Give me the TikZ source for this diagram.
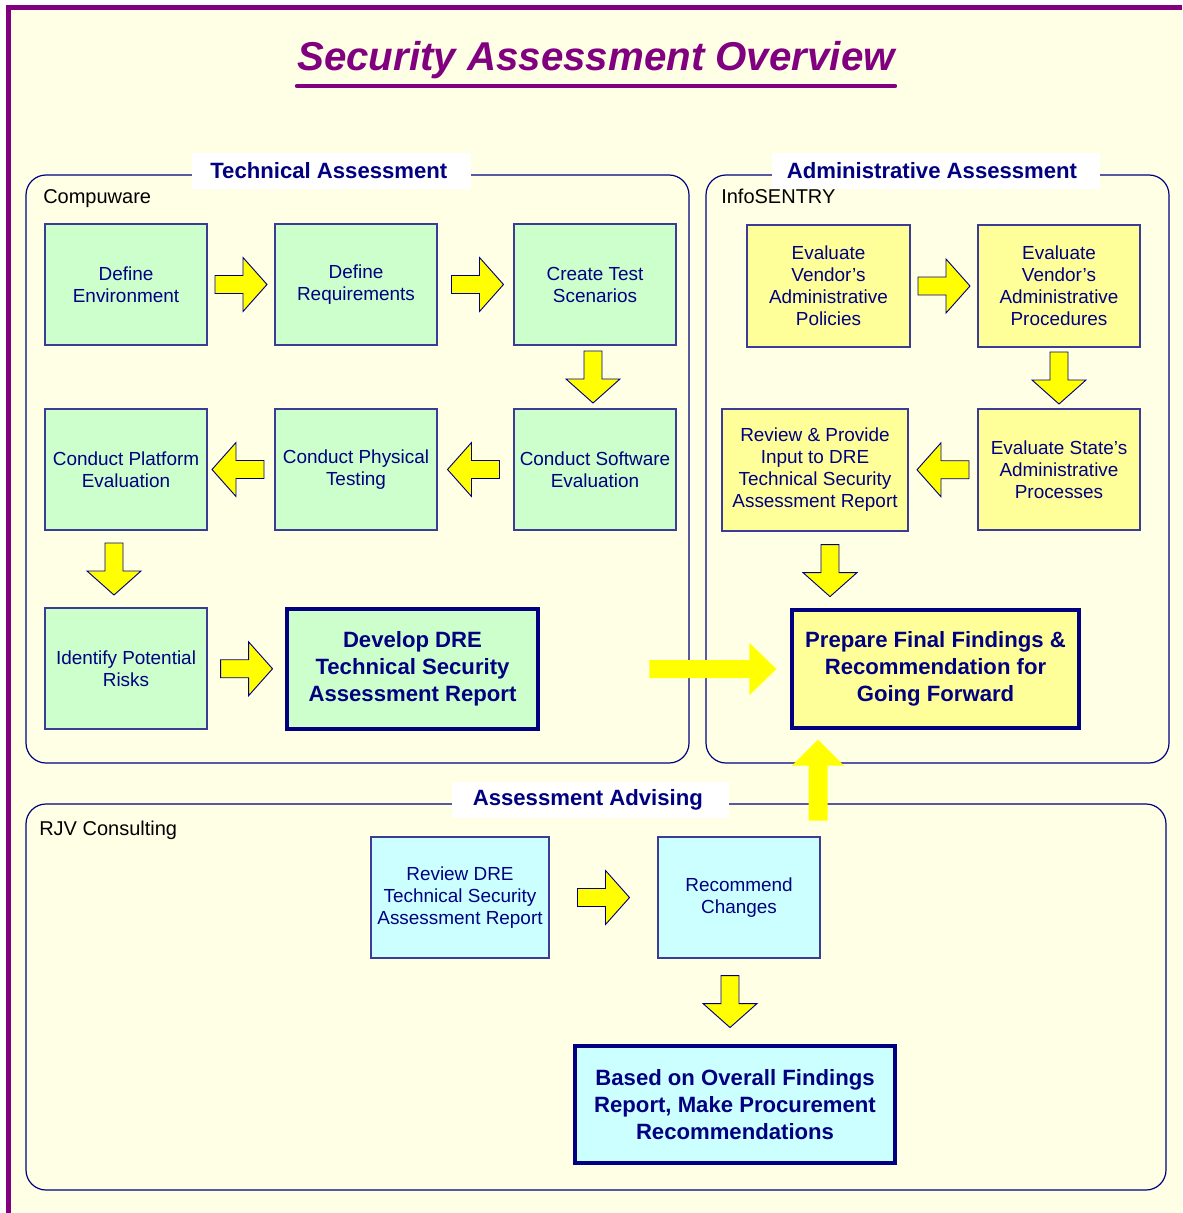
\documentclass[tikz,border=0pt]{standalone}
\usepackage{fontspec}
\setmainfont{Liberation Sans}
\usetikzlibrary{calc}
\definecolor{cream}{RGB}{255,255,230}
\definecolor{frame}{RGB}{128,0,128}
\definecolor{navy}{RGB}{0,0,128}
\definecolor{boxline}{RGB}{60,60,150}
\definecolor{greenbox}{RGB}{204,255,204}
\definecolor{yellowbox}{RGB}{255,255,153}
\definecolor{cyanbox}{RGB}{204,255,255}
\definecolor{arrowfill}{RGB}{255,255,0}
\tikzset{
  sz/.style 2 args={minimum width=#1*0.75pt, minimum height=#2*0.75pt},
  stepbox/.style={draw=boxline, line width=0.9pt, inner sep=0pt, align=center,
    text=navy, font=\fontsize{14.2}{16.5}\selectfont},
  bigbox/.style={draw=navy, line width=2.3pt, inner sep=0pt, align=center,
    text=navy, font=\fontsize{16.6}{20.3}\selectfont\bfseries},
  groupframe/.style={draw=navy, line width=0.9pt, rounded corners=15pt},
  grouplabel/.style={fill=white, inner sep=0pt, text=navy,
    font=\fontsize{16.6}{20}\selectfont\bfseries},
  groupname/.style={anchor=base west, inner sep=0pt, text=black,
    font=\fontsize{15}{18}\selectfont},
  blockarrow/.style={fill=arrowfill, draw=navy, line width=0.7pt, line join=miter},
  bigarrow/.style={fill=arrowfill, draw=none},
  pics/rarrow/.style={code={
    \draw[blockarrow] (-26,-9) -- (2,-9) -- (2,-27) -- (26,0) -- (2,27) -- (2,9) -- (-26,9) -- cycle;}}
}
\begin{document}
\begin{tikzpicture}[x=0.75pt,y=-0.75pt]
\useasboundingbox (0,0) rectangle (1182,1213);
\fill[white] (0,0) rectangle (1182,1213);
\fill[cream] (8.5,7.5) rectangle (1182,1213);
\draw[frame, line width=3.75pt] (8.5,1213) -- (8.5,7.5) -- (1182,7.5);

% title
\node[anchor=base, inner sep=0pt, text=frame, font=\fontsize{30.2}{36}\selectfont\bfseries\itshape] (title) at (596,70) {Security Assessment Overview};
\draw[frame, line width=3.3pt, line cap=round] (297,86) -- (895,86);

% group frames
\draw[groupframe] (26,175) rectangle (689,763);
\draw[groupframe] (706,175) rectangle (1169,763);
\draw[groupframe] (26,804) rectangle (1166,1190);

\node[grouplabel, sz={279}{36}] (techlabel) at (331.5,171) {\hspace*{-4pt}Technical Assessment};
\node[grouplabel, sz={328}{36}] (adminlabel) at (936,171) {\hspace*{-6pt}Administrative Assessment};
\node[grouplabel, sz={277}{36}] (advlabel) at (590.5,800) {\hspace*{-4pt}Assessment Advising};

\node[groupname] (compuware) at (43,203) {Compuware};
\node[groupname] (infosentry) at (721,203) {InfoSENTRY};
\node[groupname] (rjv) at (39,835) {RJV Consulting};

% technical nodes
\node[stepbox, fill=greenbox, sz={162}{121}] (defenv) at (126,284.5) {Define\\Environment};
\node[stepbox, fill=greenbox, sz={162}{121}] (defreq) at (356,284.5) {Define\\Requirements};
\node[stepbox, fill=greenbox, sz={162}{121}] (create) at (595,284.5) {Create Test\\Scenarios};
\node[stepbox, fill=greenbox, sz={162}{121}] (platform) at (126,469.5) {Conduct Platform\\Evaluation};
\node[stepbox, fill=greenbox, sz={162}{121}] (physical) at (356,469.5) {Conduct Physical\\Testing};
\node[stepbox, fill=greenbox, sz={162}{121}] (software) at (595,469.5) {Conduct Software\\Evaluation};
\node[stepbox, fill=greenbox, sz={162}{121}] (identify) at (126,668.5) {Identify Potential\\Risks};
\node[bigbox, fill=greenbox, sz={251}{120}] (develop) at (412.5,669) {Develop DRE\\Technical Security\\Assessment Report};

% administrative nodes
\node[stepbox, fill=yellowbox, sz={163}{122}] (policies) at (828.5,286) {Evaluate\\Vendor’s\\Administrative\\Policies};
\node[stepbox, fill=yellowbox, sz={162}{122}] (procedures) at (1059,286) {Evaluate\\Vendor’s\\Administrative\\Procedures};
\node[stepbox, fill=yellowbox, sz={162}{121}] (state) at (1059,469.5) {Evaluate State’s\\Administrative\\Processes};
\node[stepbox, fill=yellowbox, sz={186}{122}] (review) at (815,470) {Review \& Provide\\Input to DRE\\Technical Security\\Assessment Report};
\node[bigbox, fill=yellowbox, sz={287}{118}] (prepare) at (935.5,669) {Prepare Final Findings \&\\Recommendation for\\Going Forward};

% advising nodes
\node[stepbox, fill=cyanbox, sz={178}{121}] (reviewdre) at (460,897.5) {Review DRE\\Technical Security\\Assessment Report};
\node[stepbox, fill=cyanbox, sz={162}{121}] (recommend) at (739,897.5) {Recommend\\Changes};
\node[bigbox, fill=cyanbox, sz={320}{117}] (based) at (735,1104.5) {Based on Overall Findings\\Report, Make Procurement\\Recommendations};

% block arrows
\pic at ($(defenv.east)!0.5!(defreq.west)$) {rarrow};
\pic at ($(defreq.east)!0.5!(create.west)+(2,0)$) {rarrow};
\pic[rotate=-90] at ($(create.south)!0.5!(software.north)+(-2,0)$) {rarrow};
\pic[rotate=180] at ($(physical.east)!0.5!(software.west)+(-2,0)$) {rarrow};
\pic[rotate=180] at ($(platform.east)!0.5!(physical.west)+(-3,0)$) {rarrow};
\pic[rotate=-90] at ($(platform.south)!0.5!(identify.north)+(-12,0)$) {rarrow};
\pic at ($(identify.east)!0.5!(develop.west)$) {rarrow};

\pic at ($(policies.east)!0.5!(procedures.west)$) {rarrow};
\pic[rotate=-90] at ($(procedures.south)!0.5!(state.north)$) {rarrow};
\pic[rotate=180] at ($(review.east)!0.5!(state.west)$) {rarrow};
\pic[rotate=-90] at ($(review.south)+(15,39)$) {rarrow};

\pic at ($(reviewdre.east)!0.5!(recommend.west)$) {rarrow};
\pic[rotate=-90] at ($(recommend.south)!0.5!(based.north)+(-7,0)$) {rarrow};

% big arrows
\coordinate (rtip) at ($(prepare.west)+(-14,0)$);
\fill[bigarrow] (rtip) -- ++(-27,-26) -- ++(0,17) -- ++(-100,0) -- ++(0,18) -- ++(100,0) -- ++(0,17) -- cycle;
\coordinate (utip) at ($(prepare.south)+(-117.5,10)$);
\fill[bigarrow] (utip) -- ++(26,26) -- ++(-16.5,0) -- ++(0,55) -- ++(-19,0) -- ++(0,-55) -- ++(-16.5,0) -- cycle;
\end{tikzpicture}
\end{document}
